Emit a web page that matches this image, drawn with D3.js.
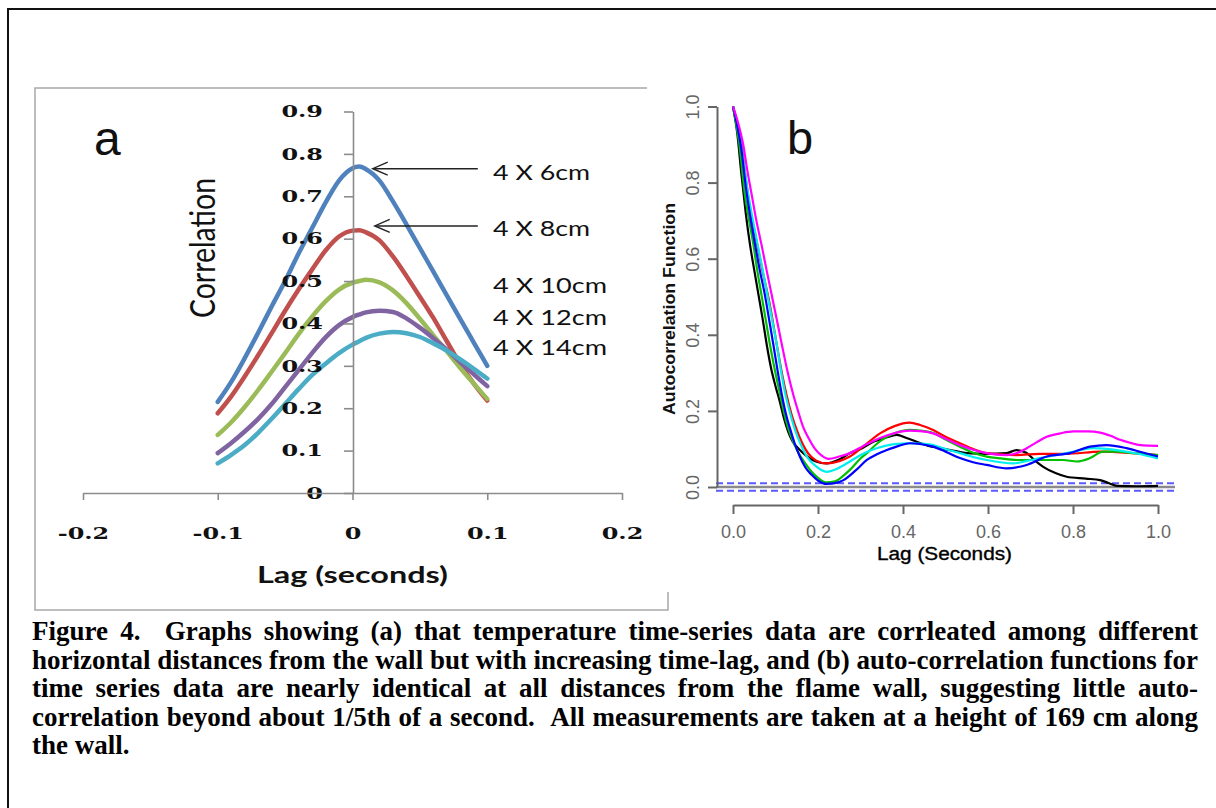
<!DOCTYPE html>
<html>
<head>
<meta charset="utf-8">
<script src="https://cdn.jsdelivr.net/npm/d3@7"></script>
<style>
  body { margin: 0; background: #fff; }
</style>
</head>
<body>
<div id="chart"></div>
<script>
// ---- panel a: cross-correlation vs lag ----
var lagA = [-0.1, -0.09, -0.08, -0.07, -0.06, -0.05, -0.04, -0.03, -0.02, -0.01, 0, 0.005, 0.01, 0.02, 0.03, 0.04, 0.05, 0.06, 0.07, 0.08, 0.09, 0.1];
var seriesNamesA = ['4 X 6cm', '4 X 8cm', '4 X 10cm', '4 X 12cm', '4 X 14cm'];
var corr6 = [0.215, 0.262, 0.318, 0.378, 0.44, 0.5, 0.565, 0.625, 0.685, 0.737, 0.766, 0.77, 0.764, 0.737, 0.688, 0.634, 0.578, 0.522, 0.466, 0.41, 0.355, 0.30];
var corr8 = [0.188, 0.228, 0.275, 0.325, 0.377, 0.43, 0.48, 0.527, 0.572, 0.605, 0.619, 0.62, 0.615, 0.596, 0.558, 0.512, 0.463, 0.413, 0.358, 0.304, 0.258, 0.218];
var corr10 = [0.137, 0.167, 0.203, 0.243, 0.286, 0.33, 0.375, 0.416, 0.452, 0.48, 0.496, 0.5, 0.503, 0.497, 0.478, 0.448, 0.411, 0.372, 0.334, 0.295, 0.258, 0.222];
var corr12 = [0.094, 0.118, 0.145, 0.175, 0.21, 0.25, 0.29, 0.33, 0.367, 0.396, 0.415, 0.421, 0.426, 0.43, 0.427, 0.412, 0.39, 0.365, 0.338, 0.308, 0.28, 0.252];
var corr14 = [0.07, 0.09, 0.113, 0.142, 0.175, 0.21, 0.245, 0.278, 0.305, 0.33, 0.35, 0.358, 0.366, 0.376, 0.38, 0.377, 0.368, 0.353, 0.336, 0.315, 0.293, 0.27];
var xTicksA = [-0.2, -0.1, 0, 0.1, 0.2];
var xTickLabelsA = ['-0.2', '-0.1', '0', '0.1', '0.2'];
var yTicksA = [0, 0.1, 0.2, 0.3, 0.4, 0.5, 0.6, 0.7, 0.8, 0.9];
var yTickLabelsA = ['0', '0.1', '0.2', '0.3', '0.4', '0.5', '0.6', '0.7', '0.8', '0.9'];
// arrows point at the two top peaks (lag, correlation)
var arrowTipsA = [[0.015, 0.765], [0.0165, 0.63]];
var arrowTailLagA = 0.093;

// ---- panel b: autocorrelation functions, [lag, acf] ----
var acfBlack = [[0,1],[0.01,0.93],[0.02,0.82],[0.03,0.72],[0.04,0.637],[0.05,0.57],[0.06,0.505],[0.07,0.44],[0.08,0.37],[0.09,0.31],[0.1,0.265],[0.11,0.225],[0.12,0.18],[0.13,0.145],[0.14,0.12],[0.155,0.1],[0.175,0.08],[0.195,0.067],[0.22,0.062],[0.25,0.072],[0.275,0.089],[0.3,0.1],[0.33,0.119],[0.36,0.13],[0.385,0.137],[0.41,0.128],[0.432,0.119],[0.46,0.108],[0.487,0.102],[0.52,0.095],[0.55,0.089],[0.597,0.087],[0.644,0.089],[0.667,0.097],[0.69,0.09],[0.71,0.07],[0.73,0.053],[0.76,0.036],[0.785,0.027],[0.83,0.022],[0.864,0.018],[0.885,0.01],[0.903,0.003],[0.95,0.002],[1,0.003]];
var acfRed = [[0,1],[0.01,0.955],[0.02,0.9],[0.03,0.81],[0.04,0.735],[0.05,0.675],[0.06,0.62],[0.07,0.565],[0.083,0.5],[0.093,0.44],[0.103,0.374],[0.115,0.3],[0.126,0.242],[0.138,0.19],[0.15,0.15],[0.163,0.115],[0.177,0.088],[0.195,0.07],[0.22,0.062],[0.25,0.068],[0.275,0.08],[0.31,0.11],[0.346,0.141],[0.38,0.16],[0.416,0.169],[0.44,0.163],[0.471,0.15],[0.5,0.132],[0.534,0.115],[0.565,0.1],[0.597,0.089],[0.667,0.084],[0.722,0.087],[0.785,0.087],[0.864,0.093],[0.942,0.089],[1,0.084]];
var acfGreen = [[0,1],[0.015,0.9],[0.028,0.768],[0.038,0.7],[0.048,0.637],[0.057,0.57],[0.067,0.505],[0.077,0.44],[0.087,0.374],[0.099,0.305],[0.111,0.242],[0.12,0.195],[0.13,0.154],[0.142,0.118],[0.154,0.09],[0.17,0.062],[0.185,0.04],[0.2,0.024],[0.22,0.012],[0.24,0.015],[0.26,0.03],[0.275,0.045],[0.3,0.075],[0.315,0.089],[0.34,0.115],[0.362,0.132],[0.39,0.145],[0.416,0.15],[0.44,0.148],[0.471,0.142],[0.5,0.125],[0.534,0.106],[0.565,0.09],[0.597,0.08],[0.63,0.075],[0.667,0.071],[0.722,0.071],[0.777,0.071],[0.809,0.067],[0.84,0.076],[0.871,0.093],[0.903,0.093],[0.942,0.089],[1,0.084]];
var acfBlue = [[0,1],[0.01,0.95],[0.02,0.885],[0.03,0.79],[0.04,0.715],[0.052,0.637],[0.063,0.57],[0.075,0.505],[0.085,0.44],[0.095,0.374],[0.105,0.305],[0.115,0.242],[0.125,0.19],[0.134,0.154],[0.145,0.115],[0.158,0.078],[0.17,0.052],[0.185,0.032],[0.2,0.017],[0.22,0.008],[0.24,0.01],[0.26,0.018],[0.29,0.045],[0.315,0.071],[0.34,0.087],[0.362,0.097],[0.39,0.108],[0.416,0.115],[0.44,0.113],[0.471,0.106],[0.5,0.093],[0.534,0.076],[0.565,0.065],[0.597,0.058],[0.644,0.049],[0.691,0.058],[0.738,0.08],[0.793,0.089],[0.84,0.106],[0.879,0.11],[0.926,0.102],[0.96,0.092],[1,0.08]];
var acfCyan = [[0,1],[0.01,0.955],[0.019,0.9],[0.028,0.83],[0.036,0.768],[0.047,0.7],[0.058,0.637],[0.07,0.57],[0.081,0.505],[0.092,0.44],[0.103,0.374],[0.113,0.305],[0.122,0.25],[0.134,0.195],[0.146,0.15],[0.16,0.11],[0.175,0.078],[0.195,0.055],[0.22,0.04],[0.245,0.048],[0.275,0.067],[0.305,0.087],[0.338,0.102],[0.375,0.112],[0.416,0.115],[0.44,0.114],[0.471,0.11],[0.5,0.1],[0.534,0.089],[0.565,0.079],[0.597,0.071],[0.66,0.062],[0.69,0.068],[0.722,0.076],[0.785,0.089],[0.848,0.102],[0.88,0.1],[0.903,0.097],[0.95,0.088],[1,0.075]];
var acfMagenta = [[0,1],[0.01,0.965],[0.024,0.9],[0.034,0.83],[0.044,0.768],[0.055,0.7],[0.067,0.637],[0.079,0.57],[0.091,0.505],[0.103,0.44],[0.115,0.374],[0.128,0.305],[0.142,0.242],[0.153,0.2],[0.165,0.158],[0.178,0.128],[0.193,0.1],[0.208,0.083],[0.225,0.074],[0.25,0.08],[0.275,0.089],[0.31,0.11],[0.354,0.132],[0.385,0.143],[0.416,0.148],[0.44,0.147],[0.471,0.141],[0.5,0.127],[0.534,0.11],[0.565,0.098],[0.597,0.089],[0.644,0.084],[0.67,0.09],[0.691,0.102],[0.715,0.118],[0.738,0.132],[0.77,0.141],[0.801,0.146],[0.835,0.146],[0.864,0.143],[0.89,0.134],[0.911,0.124],[0.935,0.116],[0.958,0.11],[1,0.108]];
var ciB = 0.01;
var xTicksB = [0, 0.2, 0.4, 0.6, 0.8, 1.0];
var xTickLabelsB = ['0.0', '0.2', '0.4', '0.6', '0.8', '1.0'];
var yTicksB = [0, 0.2, 0.4, 0.6, 0.8, 1.0];
var yTickLabelsB = ['0.0', '0.2', '0.4', '0.6', '0.8', '1.0'];

var captionLines = [
  'Figure 4.  Graphs showing (a) that temperature time-series data are corrleated among different',
  'horizontal distances from the wall but with increasing time-lag, and (b) auto-correlation functions for',
  'time series data are nearly identical at all distances from the flame wall, suggesting little auto-',
  'correlation beyond about 1/5th of a second.  All measurements are taken at a height of 169 cm along',
  'the wall.'
];

(function () {
  'use strict';
  var W = 1216, H = 808;
  var svg = d3.select('#chart').append('svg').attr('width', W).attr('height', H);
  svg.append('rect').attr('width', W).attr('height', H).attr('fill', '#fff');

  // page frame
  svg.append('rect').attr('x', 8).attr('y', 9).attr('width', 1300).attr('height', 1000)
    .attr('fill', 'none').attr('stroke', '#111').attr('stroke-width', 2);

  // ================= panel a =================
  svg.append('rect').attr('x', 35).attr('y', 88).attr('width', 633).attr('height', 522)
    .attr('fill', 'none').attr('stroke', '#a8a8a8').attr('stroke-width', 1.5);

  var xA = d3.scaleLinear().domain([-0.2, 0.2]).range([83, 622]);
  var yA = d3.scaleLinear().domain([0, 0.9]).range([493, 111.5]);
  var serif = "'DejaVu Serif', serif";
  var stretch = 1.45;

  var colorsA = ['#4f81bd', '#c0504d', '#9bbb59', '#8064a2', '#4bacc6'];
  var lineA = d3.line().x(function (d) { return xA(d[0]); }).y(function (d) { return yA(d[1]); })
    .curve(d3.curveMonotoneX);
  var curvesA = svg.append('g');

  var gy = svg.append('g').attr('transform', 'translate(353,0)')
    .call(d3.axisLeft(yA).tickValues(yTicksA).tickSize(9).tickSizeOuter(0)
      .tickFormat(function (d, i) { return yTickLabelsA[i]; }));
  gy.selectAll('text').attr('x', -30 / stretch).attr('transform', 'scale(' + stretch + ',1)')
    .attr('font-family', serif).attr('font-weight', 'bold').attr('font-size', 16.5).attr('fill', '#111');

  var gx = svg.append('g').attr('transform', 'translate(0,493)')
    .call(d3.axisBottom(xA).tickValues(xTicksA).tickSize(7).tickSizeOuter(0)
      .tickFormat(function (d, i) { return xTickLabelsA[i]; }));
  gx.selectAll('text').attr('y', 46).attr('dy', 0).attr('transform', 'scale(' + stretch + ',1)')
    .attr('font-family', serif).attr('font-weight', 'bold').attr('font-size', 16.5).attr('fill', '#111');
  svg.selectAll('.domain, .tick line').attr('stroke', '#8c8c8c').attr('stroke-width', 1.6);

  // curves below the axis labels, as in the original
  [corr6, corr8, corr10, corr12, corr14].forEach(function (vals, k) {
    var pts = lagA.map(function (l, i) { return [l, vals[i]]; });
    curvesA.append('path').datum(pts).attr('d', lineA).attr('fill', 'none')
      .attr('stroke', colorsA[k]).attr('stroke-width', 4.5)
      .attr('stroke-linecap', 'round').attr('stroke-linejoin', 'round');
  });

  // arrows to the peaks
  arrowTipsA.forEach(function (t) {
    var tx = xA(t[0]), ty = yA(t[1]), ex = xA(arrowTailLagA);
    svg.append('line').attr('x1', tx + 1).attr('y1', ty).attr('x2', ex).attr('y2', ty)
      .attr('stroke', '#222').attr('stroke-width', 1.4);
    svg.append('path').attr('d', 'M' + (tx + 15) + ',' + (ty - 6.5) + 'L' + tx + ',' + ty + 'L' + (tx + 15) + ',' + (ty + 6.5))
      .attr('fill', 'none').attr('stroke', '#222').attr('stroke-width', 1.4);
  });

  var sans = "Lato, 'Open Sans', sans-serif";
  var labelPosA = [[493, 180, 97], [493, 236, 97], [493, 293, 114], [493, 325, 114], [493, 355, 114]];
  seriesNamesA.forEach(function (n, i) {
    svg.append('text').attr('x', labelPosA[i][0]).attr('y', labelPosA[i][1])
      .attr('textLength', labelPosA[i][2]).attr('lengthAdjust', 'spacingAndGlyphs')
      .attr('font-family', sans).attr('font-size', 22).attr('fill', '#111').text(n);
  });

  svg.append('text').attr('transform', 'translate(215,248) scale(1.3,1) rotate(-90)')
    .attr('text-anchor', 'middle').attr('textLength', 140).attr('lengthAdjust', 'spacingAndGlyphs')
    .attr('font-family', sans).attr('font-size', 27).attr('fill', '#111').text('Correlation');
  svg.append('text').attr('x', 352.5).attr('y', 583).attr('text-anchor', 'middle')
    .attr('textLength', 191).attr('lengthAdjust', 'spacingAndGlyphs')
    .attr('font-family', sans).attr('font-weight', 'bold').attr('font-size', 22).attr('fill', '#111')
    .text('Lag (seconds)');
  svg.append('text').attr('x', 94).attr('y', 155).attr('font-family', "'Liberation Sans', Arial, sans-serif")
    .attr('font-size', 48).attr('fill', '#111').text('a');

  // ================= panel b =================
  svg.append('rect').attr('x', 647).attr('y', 80).attr('width', 560).attr('height', 512).attr('fill', '#fff');
  var arial = "'Liberation Sans', Arial, sans-serif";
  var xB = d3.scaleLinear().domain([0, 1]).range([733, 1158]);
  var yB = d3.scaleLinear().domain([0, 1]).range([487, 106.5]);
  var gB = svg.append('g');

  // zero line and confidence bounds
  gB.append('line').attr('x1', xB(-0.04)).attr('x2', xB(1.04)).attr('y1', yB(0)).attr('y2', yB(0))
    .attr('stroke', '#8a8a8a').attr('stroke-width', 2.5);
  [ciB, -ciB].forEach(function (c) {
    gB.append('line').attr('x1', xB(-0.04)).attr('x2', xB(1.04)).attr('y1', yB(c)).attr('y2', yB(c))
      .attr('stroke', '#5a5aff').attr('stroke-width', 2).attr('stroke-dasharray', '7,4');
  });

  var lineB = d3.line().x(function (d) { return xB(d[0]); }).y(function (d) { return yB(d[1]); })
    .curve(d3.curveMonotoneX);
  var seriesB = [[acfBlack, '#000000'], [acfRed, '#ff0000'], [acfGreen, '#00c000'],
    [acfCyan, '#00eeee'], [acfBlue, '#0000ff'], [acfMagenta, '#ff00ff']];
  seriesB.forEach(function (s) {
    gB.append('path').datum(s[0]).attr('d', lineB).attr('fill', 'none')
      .attr('stroke', s[1]).attr('stroke-width', 2.2).attr('stroke-linejoin', 'round');
  });

  var byAx = gB.append('g').attr('transform', 'translate(717,0)')
    .call(d3.axisLeft(yB).tickValues(yTicksB).tickSize(9).tickSizeOuter(0)
      .tickFormat(function (d, i) { return yTickLabelsB[i]; }));
  byAx.selectAll('text').attr('x', 0).attr('y', -18).attr('dy', 0).attr('text-anchor', 'middle')
    .attr('transform', 'rotate(-90)').attr('font-family', arial).attr('font-size', 18).attr('fill', '#666');
  var bxAx = gB.append('g').attr('transform', 'translate(0,505)')
    .call(d3.axisBottom(xB).tickValues(xTicksB).tickSize(9).tickSizeOuter(0)
      .tickFormat(function (d, i) { return xTickLabelsB[i]; }));
  bxAx.selectAll('text').attr('y', 33).attr('dy', 0)
    .attr('font-family', arial).attr('font-size', 18).attr('fill', '#666');
  gB.selectAll('.domain, .tick line').attr('stroke', '#666').attr('stroke-width', 2);

  gB.append('text').attr('transform', 'translate(675,309) rotate(-90)').attr('text-anchor', 'middle')
    .attr('textLength', 212).attr('lengthAdjust', 'spacingAndGlyphs')
    .attr('font-family', arial).attr('font-weight', 'bold').attr('font-size', 17).attr('fill', '#111')
    .text('Autocorrelation Function');
  gB.append('text').attr('x', 944.5).attr('y', 560).attr('text-anchor', 'middle')
    .attr('textLength', 135).attr('lengthAdjust', 'spacingAndGlyphs')
    .attr('font-family', arial).attr('font-size', 18).attr('fill', '#000').attr('stroke', '#000')
    .attr('stroke-width', 0.35).text('Lag (Seconds)');
  gB.append('text').attr('x', 787).attr('y', 154).attr('font-family', arial)
    .attr('font-size', 47).attr('fill', '#111').text('b');

  // ================= caption (justified) =================
  var capLeft = 32, capRight = 1198, capTop = 640, capStep = 28.6;
  var capG = svg.append('g').attr('font-family', "'Liberation Serif', 'Times New Roman', serif")
    .attr('font-weight', 'bold').attr('fill', '#000');
  // pick the font size so the fullest line just fits the column
  var baseFs = 20;
  capG.attr('font-size', baseFs);
  var widest = d3.max(captionLines.slice(0, -1), function (line) {
    var tmp = capG.append('text').text(line);
    var wd = tmp.node().getComputedTextLength();
    tmp.remove();
    return wd;
  });
  capG.attr('font-size', baseFs * (capRight - capLeft) / widest);

  captionLines.forEach(function (line, li) {
    var y = capTop + li * capStep;
    var t = capG.append('text').attr('y', y);
    if (li === captionLines.length - 1) {
      t.attr('x', capLeft).text(line);
      return;
    }
    var words = line.split(' ');
    var widths = words.map(function (w) {
      if (!w) return 0;
      var tmp = capG.append('text').text(w);
      var wd = tmp.node().getComputedTextLength();
      tmp.remove();
      return wd;
    });
    var total = d3.sum(widths);
    var gap = (capRight - capLeft - total) / (words.length - 1);
    var x = capLeft;
    words.forEach(function (w, i) {
      if (w) t.append('tspan').attr('x', x).text(w);
      x += widths[i] + gap;
    });
  });
})();
</script>
</body>
</html>
